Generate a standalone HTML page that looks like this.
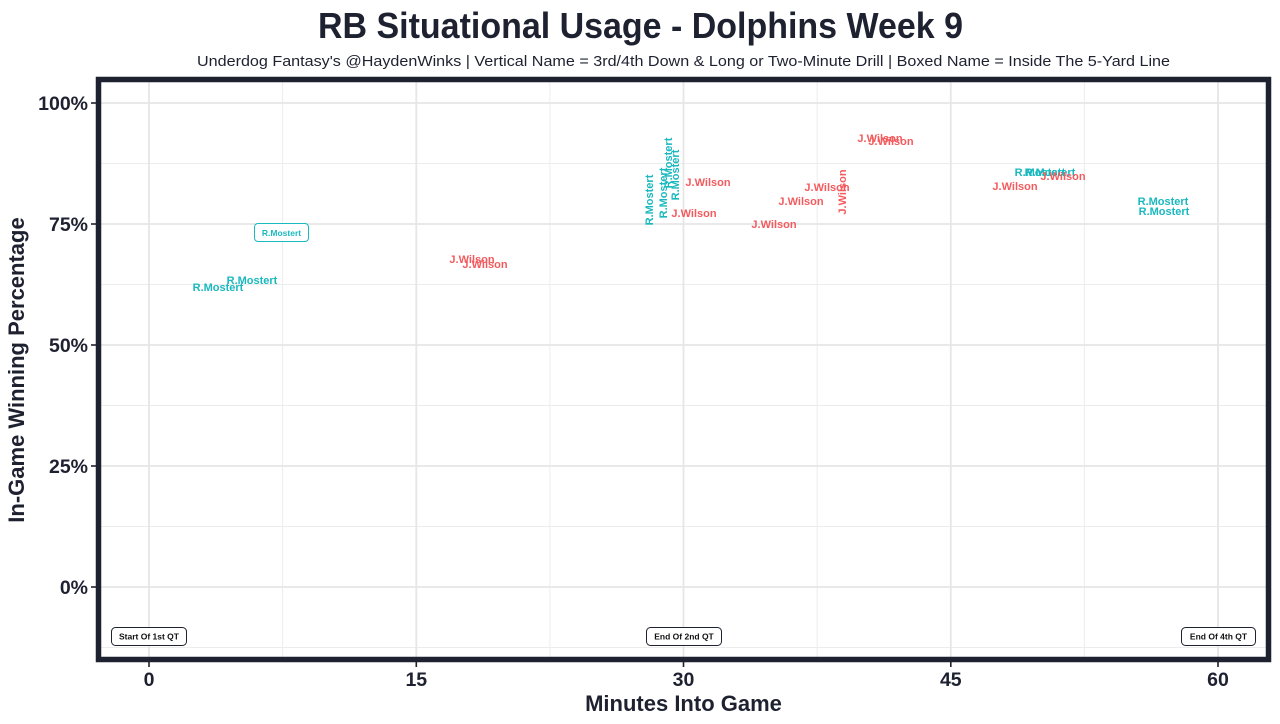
<!DOCTYPE html>
<html>
<head>
<meta charset="utf-8">
<style>
html,body{margin:0;padding:0;background:#fff;}
svg{display:block;}
text{font-family:"Liberation Sans",Arial,sans-serif;}
</style>
</head>
<body>
<svg width="1280" height="724" viewBox="0 0 1280 724" xmlns="http://www.w3.org/2000/svg">
<rect x="0" y="0" width="1280" height="724" fill="#fff"/>

<!-- Title -->
<text x="640.5" y="38" text-anchor="middle" font-size="36" font-weight="bold" fill="#1e2130" textLength="645" lengthAdjust="spacingAndGlyphs">RB Situational Usage - Dolphins Week 9</text>
<text x="683.5" y="66" text-anchor="middle" font-size="15" fill="#1e2130" textLength="973" lengthAdjust="spacingAndGlyphs">Underdog Fantasy's @HaydenWinks | Vertical Name = 3rd/4th Down &amp; Long or Two-Minute Drill | Boxed Name = Inside The 5-Yard Line</text>

<!-- Panel background -->
<rect x="99" y="80" width="1169" height="580" fill="#fff"/>

<!-- Minor gridlines -->
<g stroke="#ececec" stroke-width="1">
<line x1="282.6" y1="80" x2="282.6" y2="660"/>
<line x1="549.9" y1="80" x2="549.9" y2="660"/>
<line x1="817.2" y1="80" x2="817.2" y2="660"/>
<line x1="1084.4" y1="80" x2="1084.4" y2="660"/>
<line x1="99" y1="163.5" x2="1268" y2="163.5"/>
<line x1="99" y1="284.5" x2="1268" y2="284.5"/>
<line x1="99" y1="405.5" x2="1268" y2="405.5"/>
<line x1="99" y1="526.5" x2="1268" y2="526.5"/>
<line x1="99" y1="647.5" x2="1268" y2="647.5"/>
</g>
<!-- Major gridlines -->
<g stroke="#e6e6e6" stroke-width="1.8">
<line x1="149" y1="80" x2="149" y2="660"/>
<line x1="416.3" y1="80" x2="416.3" y2="660"/>
<line x1="683.5" y1="80" x2="683.5" y2="660"/>
<line x1="950.8" y1="80" x2="950.8" y2="660"/>
<line x1="1218" y1="80" x2="1218" y2="660"/>
<line x1="99" y1="103" x2="1268" y2="103"/>
<line x1="99" y1="224" x2="1268" y2="224"/>
<line x1="99" y1="345" x2="1268" y2="345"/>
<line x1="99" y1="466" x2="1268" y2="466"/>
<line x1="99" y1="587" x2="1268" y2="587"/>
</g>

<!-- Teal labels -->
<g font-size="11" font-weight="bold" fill="#19b9bf" text-anchor="middle" dominant-baseline="central">
<text x="218" y="288">R.Mostert</text>
<text x="252" y="281">R.Mostert</text>
<text x="1040" y="173">R.Mostert</text>
<text x="1050" y="173">R.Mostert</text>
<text x="1163" y="202">R.Mostert</text>
<text x="1164" y="212">R.Mostert</text>
<text transform="translate(650,200) rotate(-90)">R.Mostert</text>
<text transform="translate(664,193) rotate(-90)">R.Mostert</text>
<text transform="translate(669,163) rotate(-90)">R.Mostert</text>
<text transform="translate(676,175) rotate(-90)">R.Mostert</text>
</g>
<rect x="254.5" y="223.5" width="54" height="18" rx="3.5" ry="3.5" fill="#fff" stroke="#19b9bf" stroke-width="1"/>
<text x="281.5" y="233" font-size="8.5" font-weight="bold" fill="#19b9bf" text-anchor="middle" dominant-baseline="central">R.Mostert</text>

<!-- Red labels -->
<g font-size="11" font-weight="bold" fill="#f35b5e" text-anchor="middle" dominant-baseline="central">
<text x="472" y="260">J.Wilson</text>
<text x="485" y="265">J.Wilson</text>
<text x="708" y="183">J.Wilson</text>
<text x="694" y="214">J.Wilson</text>
<text x="774" y="225">J.Wilson</text>
<text x="801" y="202">J.Wilson</text>
<text x="827" y="188">J.Wilson</text>
<text x="880" y="139">J.Wilson</text>
<text x="891" y="142">J.Wilson</text>
<text x="1015" y="187">J.Wilson</text>
<text x="1063" y="177">J.Wilson</text>
<text transform="translate(843,192) rotate(-90)">J.Wilson</text>
</g>

<!-- Quarter boxes -->
<g fill="#fff" stroke="#1e2130" stroke-width="1">
<rect x="111.5" y="627.5" width="75" height="18" rx="4" ry="4"/>
<rect x="646.5" y="627.5" width="75" height="18" rx="4" ry="4"/>
<rect x="1181.5" y="627.5" width="74" height="18" rx="4" ry="4"/>
</g>
<g font-size="8.5" font-weight="bold" fill="#111" text-anchor="middle" dominant-baseline="central">
<text x="149" y="636.5">Start Of 1st QT</text>
<text x="684" y="636.5">End Of 2nd QT</text>
<text x="1218.5" y="636.5">End Of 4th QT</text>
</g>

<!-- Panel border -->
<rect x="98.5" y="79.5" width="1170" height="580" fill="none" stroke="#1e2130" stroke-width="5.5"/>

<!-- Ticks -->
<g stroke="#1e2130" stroke-width="1.6">
<line x1="91" y1="103" x2="96" y2="103"/>
<line x1="91" y1="224" x2="96" y2="224"/>
<line x1="91" y1="345" x2="96" y2="345"/>
<line x1="91" y1="466" x2="96" y2="466"/>
<line x1="91" y1="587" x2="96" y2="587"/>
<line x1="149" y1="662" x2="149" y2="667"/>
<line x1="416.3" y1="662" x2="416.3" y2="667"/>
<line x1="683.5" y1="662" x2="683.5" y2="667"/>
<line x1="950.8" y1="662" x2="950.8" y2="667"/>
<line x1="1218" y1="662" x2="1218" y2="667"/>
</g>

<!-- Y tick labels -->
<g font-size="19.5" font-weight="bold" fill="#1e2130" text-anchor="end" dominant-baseline="central">
<text x="88" y="104">100%</text>
<text x="88" y="225">75%</text>
<text x="88" y="346">50%</text>
<text x="88" y="467">25%</text>
<text x="88" y="588">0%</text>
</g>
<!-- X tick labels -->
<g font-size="19.5" font-weight="bold" fill="#1e2130" text-anchor="middle">
<text x="149" y="686">0</text>
<text x="416.3" y="686">15</text>
<text x="683.5" y="686">30</text>
<text x="950.8" y="686">45</text>
<text x="1218" y="686">60</text>
</g>

<!-- Axis titles -->
<text x="683.5" y="711" font-size="22" font-weight="bold" fill="#1e2130" text-anchor="middle">Minutes Into Game</text>
<text transform="translate(24,370) rotate(-90)" font-size="22" font-weight="bold" fill="#1e2130" text-anchor="middle">In-Game Winning Percentage</text>
</svg>
</body>
</html>
